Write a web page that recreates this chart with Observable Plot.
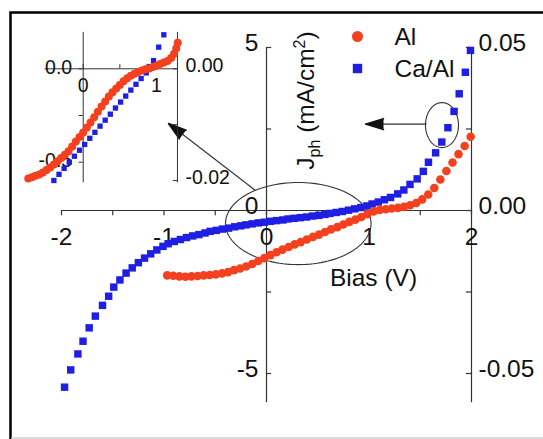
<!DOCTYPE html>
<html><head><meta charset="utf-8">
<script src="https://cdn.jsdelivr.net/npm/d3@7"></script>
<script src="https://cdn.jsdelivr.net/npm/@observablehq/plot@0.6"></script>
<style>
html,body{margin:0;padding:0;background:#fff;}
#chart{position:relative;width:543px;height:439px;overflow:hidden;background:#fff;}
#chart svg{position:absolute;left:0;top:0;}
</style></head><body><div id="chart"></div>
<script>
// ---------------- data ----------------
const seriesNames = ["Al", "Ca/Al"];

// main panel, bias (V) and photocurrent J_ph (mA/cm^2)
const alBias = [-0.969,-0.909,-0.850,-0.791,-0.732,-0.672,-0.613,-0.554,-0.494,-0.435,-0.376,-0.317,-0.258,-0.199,-0.139,-0.080,-0.021,0.038,0.098,0.156,0.216,0.275,0.334,0.393,0.453,0.512,0.571,0.630,0.690,0.749,0.808,0.867,0.926,0.985,1.045,1.104,1.163,1.222,1.282,1.341,1.400,1.460,1.518,1.578,1.637,1.696,1.755,1.815,1.873,1.933,1.992];
const alJ = [-1.99,-2.00,-2.02,-2.03,-2.02,-2.01,-1.99,-1.98,-1.96,-1.93,-1.89,-1.83,-1.78,-1.72,-1.64,-1.55,-1.46,-1.37,-1.28,-1.20,-1.12,-1.04,-0.97,-0.89,-0.81,-0.74,-0.66,-0.58,-0.51,-0.43,-0.35,-0.28,-0.20,-0.11,-0.03,0.02,0.04,0.06,0.08,0.11,0.16,0.23,0.34,0.49,0.69,0.95,1.21,1.47,1.73,1.98,2.26];

const caBias = [-1.97,-1.91,-1.84,-1.79,-1.73,-1.67,-1.60,-1.54,-1.49,-1.43,-1.37,-1.31,-1.25,-1.19,-1.13,-1.07,-1.01,-0.96,-0.90,-0.84,-0.78,-0.72,-0.66,-0.60,-0.55,-0.49,-0.43,-0.37,-0.31,-0.25,-0.20,-0.14,-0.08,-0.02,0.04,0.10,0.16,0.21,0.27,0.33,0.39,0.45,0.51,0.57,0.62,0.68,0.74,0.80,0.86,0.92,0.98,1.03,1.09,1.15,1.21,1.28,1.34,1.40,1.47,1.53,1.58,1.65,1.71,1.77,1.83,1.88,1.94,1.99];
const caJ = [-5.42,-4.89,-4.40,-4.01,-3.60,-3.24,-2.91,-2.63,-2.35,-2.13,-1.92,-1.76,-1.60,-1.46,-1.33,-1.21,-1.10,-1.02,-0.95,-0.89,-0.83,-0.78,-0.74,-0.69,-0.64,-0.61,-0.57,-0.54,-0.50,-0.47,-0.44,-0.41,-0.38,-0.36,-0.33,-0.31,-0.29,-0.26,-0.24,-0.22,-0.20,-0.17,-0.15,-0.12,-0.09,-0.06,-0.03,0.01,0.05,0.09,0.14,0.20,0.26,0.33,0.40,0.51,0.63,0.80,0.97,1.20,1.48,1.77,2.10,2.54,3.04,3.58,4.24,4.91];

// inset panel
const insetAlBias = [-0.75,-0.70,-0.65,-0.60,-0.55,-0.50,-0.45,-0.40,-0.35,-0.30,-0.25,-0.20,-0.15,-0.10,-0.05,0.00,0.05,0.10,0.15,0.20,0.25,0.30,0.35,0.40,0.45,0.50,0.55,0.60,0.65,0.70,0.75,0.80,0.85,0.90,0.95,1.00,1.05,1.10,1.15,1.20,1.24,1.27,1.29];
const insetAlJ = [-0.587,-0.580,-0.572,-0.566,-0.555,-0.542,-0.528,-0.512,-0.495,-0.477,-0.460,-0.441,-0.416,-0.389,-0.365,-0.341,-0.314,-0.287,-0.259,-0.230,-0.202,-0.175,-0.148,-0.126,-0.106,-0.087,-0.067,-0.051,-0.037,-0.026,-0.017,-0.009,-0.003,0.002,0.009,0.016,0.026,0.034,0.042,0.058,0.080,0.110,0.140];
const insetCaBias = [-0.40,-0.33,-0.26,-0.19,-0.12,-0.05,0.02,0.09,0.16,0.23,0.30,0.37,0.44,0.51,0.58,0.65,0.72,0.79,0.86,0.90,0.96,1.03,1.10];
const insetCaJ = [-0.598,-0.565,-0.533,-0.500,-0.468,-0.436,-0.405,-0.372,-0.340,-0.307,-0.275,-0.243,-0.210,-0.178,-0.146,-0.114,-0.083,-0.052,-0.022,0.012,0.044,0.116,0.182];

// axes: ticks and labels
const xTickValues = [-2,-1.5,-1,-0.5,0,0.5,1,1.5,2];
const xLabelValues = [-2,-1,0,1,2];
const xLabels = ["-2","-1","0","1","2"];
const leftTickValues = [5,2.5,0,-2.5,-5];
const leftLabelValues = [5,0,-5];
const leftLabels = ["5","0","-5"];
const rightTickValues = [0.05,0.025,0,-0.025,-0.05];
const rightLabelValues = [0.05,0,-0.05];
const rightLabels = ["0.05","0.00","-0.05"];
const xTitle = "Bias (V)";
const yTitle = "J_ph (mA/cm2)";

const insetXTickValues = [0,0.5,1];
const insetXLabelValues = [0,1];
const insetXLabels = ["0","1"];
const insetLeftTickValues = [0,-0.25,-0.5];
const insetLeftLabelValues = [0,-0.5];
const insetLeftLabels = ["0.0","-0.5"];
const insetRightTickValues = [0,-0.01,-0.02];
const insetRightLabelValues = [0,-0.02];
const insetRightLabels = ["0.00","-0.02"];

// annotations (data units of the main panel)
const bigEllipse = {cx: 0.31, cy: -0.40, rx: 0.71, ry: 1.26};
const smallEllipse = {cx: 1.712, cy: 2.62, rx: 0.161, ry: 0.69};
const arrows = [
  {x1: -0.107, y1: 0.613, x2: -0.956, y2: 2.669, rotate: -52},
  {x1: 1.561, y1: 2.65, x2: 0.966, y2: 2.65, rotate: -90}
];

// ---------------- styles ----------------
const RED = "#f4401e", BLUE = "#1f1fe4", AXIS = "#333", INK = "#111";
const FONT = "'Liberation Sans', Arial, Helvetica, sans-serif";
const RIGHT_FACTOR = 100;       // right axis value -> left axis value
const INSET_RIGHT_FACTOR = 29.9;
const tJ = 0.16, tV = 0.05;     // main tick lengths in data units (~5px)
const itJ = 0.022, itV = 0.055; // inset tick lengths
const Y_BOTTOM = -5.9, Y_TOP = 5;
const INSET_XMAX = 1.286, INSET_XMIN = -0.52, INSET_YMIN = -0.61, INSET_YMAX = 0.195;

const al = alBias.map((x, i) => ({x, y: alJ[i]}));
const ca = caBias.map((x, i) => ({x, y: caJ[i]}));
const ial = insetAlBias.map((x, i) => ({x, y: insetAlJ[i]}));
const ica = insetCaBias.map((x, i) => ({x, y: insetCaJ[i]}));
const angles = d3.range(0, 361, 3);
const ell = (e) => Plot.line(angles, {
  x: a => e.cx + e.rx * Math.cos(a * Math.PI / 180),
  y: a => e.cy + e.ry * Math.sin(a * Math.PI / 180),
  stroke: AXIS, strokeWidth: 1.1
});

const main = Plot.plot({
  width: 543, height: 439, margin: 0,
  x: {domain: [-2, 2], range: [61, 471], axis: null},
  y: {domain: [-5, 5], range: [373, 47], axis: null},
  style: {fontFamily: FONT, fontSize: "24.5px", background: "white", color: INK},
  marks: [
    Plot.frame({insetLeft: 10, insetTop: 12, insetRight: -10, insetBottom: -10, stroke: "#000", strokeWidth: 2.5}),
    Plot.frame({insetLeft: 11, insetTop: 437.2, insetRight: -10, insetBottom: 1.3, stroke: "#c8c8c8", strokeWidth: 0.8}),
    Plot.ruleY([0], {x1: -2, x2: 2, stroke: AXIS, strokeWidth: 1.2}),
    Plot.ruleX([0], {y1: Y_BOTTOM, y2: Y_TOP, stroke: AXIS, strokeWidth: 1.2}),
    Plot.ruleX([2], {y1: Y_BOTTOM, y2: Y_TOP, stroke: AXIS, strokeWidth: 1.2}),
    Plot.ruleX(xTickValues, {x: d => d, y1: 0, y2: -tJ, stroke: AXIS, strokeWidth: 1.2}),
    Plot.ruleY(leftTickValues, {y: d => d, x1: 0, x2: tV, stroke: AXIS, strokeWidth: 1.2}),
    Plot.ruleY(rightTickValues, {y: d => d * RIGHT_FACTOR, x1: 2 - tV, x2: 2, stroke: AXIS, strokeWidth: 1.2}),
    Plot.text(xLabelValues, {x: d => d, y: 0, text: (d, i) => xLabels[i], dy: 27, lineAnchor: "middle"}),
    Plot.text(leftLabelValues, {x: 0, y: d => d, text: (d, i) => leftLabels[i], dx: -8, dy: -4, textAnchor: "end", lineAnchor: "middle"}),
    Plot.text(rightLabelValues, {x: 2, y: d => d * RIGHT_FACTOR, text: (d, i) => rightLabels[i], dx: 7, dy: -4, textAnchor: "start", lineAnchor: "middle"}),
    Plot.text([xTitle], {frameAnchor: "top-left", dx: 373, dy: 278, textAnchor: "middle", lineAnchor: "middle"}),
    Plot.text([yTitle], {frameAnchor: "top-left", dx: 306, dy: 100, rotate: -90, textAnchor: "middle", lineAnchor: "middle"}),
    ell(bigEllipse),
    ell(smallEllipse),
    Plot.link(arrows, {x1: "x1", y1: "y1", x2: "x2", y2: "y2", stroke: AXIS, strokeWidth: 1.1}),
    ...arrows.map(a => Plot.vector([a], {x: "x2", y: "y2", length: 18, rotate: a.rotate, anchor: "end", shape: "spike", r: 5.5, fill: INK, stroke: INK})),
    Plot.dot(ca, {x: "x", y: "y", symbol: "square", r: 4.2, fill: BLUE}),
    Plot.dot(al, {x: "x", y: "y", r: 4.3, fill: RED}),
    // legend
    Plot.dot([seriesNames[0]], {frameAnchor: "top-left", dx: 357, dy: 36, r: 5.5, fill: RED}),
    Plot.dot([seriesNames[1]], {frameAnchor: "top-left", dx: 357, dy: 68, r: 5.3, symbol: "square", fill: BLUE}),
    Plot.text([seriesNames[0]], {frameAnchor: "top-left", dx: 394, dy: 37, textAnchor: "start", lineAnchor: "middle"}),
    Plot.text([seriesNames[1]], {frameAnchor: "top-left", dx: 394, dy: 69, textAnchor: "start", lineAnchor: "middle"})
  ]
});

const inset = Plot.plot({
  width: 543, height: 439, margin: 0,
  x: {domain: [0, 1], range: [82.7, 156], axis: null},
  y: {domain: [-0.5, 0], range: [161.7, 68.3], axis: null},
  style: {fontFamily: FONT, fontSize: "19.5px", background: "none", color: INK},
  marks: [
    Plot.ruleY([0], {x1: INSET_XMIN, x2: INSET_XMAX, stroke: AXIS}),
    Plot.ruleX([0], {y1: INSET_YMIN, y2: INSET_YMAX, stroke: AXIS}),
    Plot.ruleX([INSET_XMAX], {y1: INSET_YMIN, y2: INSET_YMAX, stroke: AXIS}),
    Plot.ruleX(insetXTickValues, {x: d => d, y1: 0, y2: itJ, stroke: AXIS}),
    Plot.ruleY(insetLeftTickValues, {y: d => d, x1: -itV, x2: 0, stroke: AXIS}),
    Plot.ruleY(insetRightTickValues, {y: d => d * INSET_RIGHT_FACTOR, x1: INSET_XMAX - itV, x2: INSET_XMAX, stroke: AXIS}),
    Plot.text(insetXLabelValues, {x: d => d, y: 0, text: (d, i) => insetXLabels[i], dy: 17, lineAnchor: "middle"}),
    Plot.text(insetLeftLabelValues, {x: 0, y: d => d, text: (d, i) => insetLeftLabels[i], dx: -11, dy: -1, textAnchor: "end", lineAnchor: "middle"}),
    Plot.text(insetRightLabelValues, {x: INSET_XMAX, y: d => d * INSET_RIGHT_FACTOR, text: (d, i) => insetRightLabels[i], dx: 8, dy: -3, textAnchor: "start", lineAnchor: "middle"}),
    Plot.dot(ica, {x: "x", y: "y", symbol: "square", r: 3, fill: BLUE}),
    Plot.dot(ial, {x: "x", y: "y", r: 4, fill: RED})
  ]
});

// sub/superscripts in the y title
for (const t of main.querySelectorAll("text")) {
  if (t.textContent === yTitle) {
    while (t.firstChild) t.removeChild(t.firstChild);
    const parts = [["J", 0, null], ["ph", 6, "16px"], [" (mA/cm", -6, null], ["2", -9, "16px"], [")", 9, null]];
    for (const [s, dy, fs] of parts) {
      const ts = document.createElementNS("http://www.w3.org/2000/svg", "tspan");
      ts.textContent = s;
      if (dy) ts.setAttribute("dy", dy);
      if (fs) ts.setAttribute("font-size", fs);
      t.appendChild(ts);
    }
  }
}

const chart = document.getElementById("chart");
chart.appendChild(main);
chart.appendChild(inset);
</script></body></html>
